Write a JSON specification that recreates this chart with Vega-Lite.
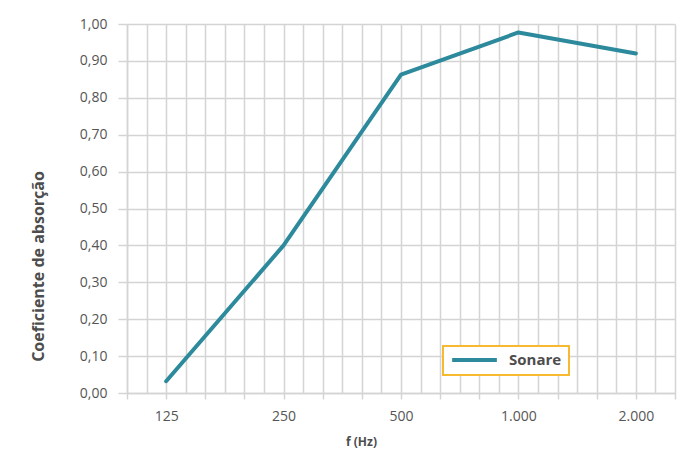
{
  "$schema": "https://vega.github.io/schema/vega-lite/v6.json",
  "width": 548,
  "height": 369,
  "autosize": {"type": "none"},
  "padding": {"left": 127, "top": 24, "right": 5, "bottom": 59},
  "background": "white",
  "config": {
    "view": {"stroke": null},
    "font": "Open Sans",
    "legend": {"strokeWidth": 2}
  },
  "data": {
    "values": [
      {"f": 125, "coef": 0.032, "serie": "Sonare"},
      {"f": 250, "coef": 0.40, "serie": "Sonare"},
      {"f": 500, "coef": 0.863, "serie": "Sonare"},
      {"f": 1000, "coef": 0.977, "serie": "Sonare"},
      {"f": 2000, "coef": 0.92, "serie": "Sonare"}
    ]
  },
  "mark": {"type": "line", "strokeWidth": 4, "strokeCap": "round", "strokeJoin": "round"},
  "encoding": {
    "x": {
      "field": "f",
      "type": "quantitative",
      "scale": {"type": "log", "base": 2, "domain": [99.2126, 2519.9], "nice": false},
      "axis": {
        "title": "f (Hz)",
        "titleFont": "Open Sans",
        "titleFontWeight": "bold",
        "titleFontSize": 12,
        "titleColor": "#4d4d4d",
        "titleX": 234,
        "titleY": 48,
        "titleBaseline": "middle",
        "titleAlign": "center",
        "values": [99.2126, 111.3623, 125, 140.3078, 157.4901, 176.7767, 198.4251, 222.7247, 250, 280.6155, 314.9803, 353.5534, 396.8503, 445.4494, 500, 561.231, 629.9605, 707.1068, 793.7005, 890.8987, 1000, 1122.462, 1259.921, 1414.214, 1587.401, 1781.797, 2000, 2244.924, 2519.842],
        "labelExpr": "datum.value==125?'125':datum.value==250?'250':datum.value==500?'500':datum.value==1000?'1.000':datum.value==2000?'2.000':''",
        "labelOverlap": false,
        "labelFlush": false,
        "labelFontSize": 14,
        "labelColor": "#555555",
        "labelPadding": 10,
        "grid": true,
        "gridColor": "#d4d4d4",
        "gridWidth": 1.5,
        "domain": true,
        "domainColor": "#d4d4d4",
        "domainWidth": 1.5,
        "tickColor": "#d4d4d4",
        "tickWidth": 1.5,
        "tickSize": 6,
        "tickOpacity": {"condition": {"test": "abs(log(datum.value/125)/log(2)*3 - round(log(datum.value/125)/log(2)*3)) < 0.01", "value": 1}, "value": 0}
      }
    },
    "y": {
      "field": "coef",
      "type": "quantitative",
      "scale": {"domain": [0, 1], "nice": false},
      "axis": {
        "title": "Coeficiente de absorção",
        "titleFont": "Open Sans",
        "titleFontWeight": "bold",
        "titleFontSize": 16,
        "titleColor": "#4d4d4d",
        "titleX": -89,
        "titleY": 242,
        "titleAlign": "center",
        "titleBaseline": "middle",
        "values": [0, 0.1, 0.2, 0.3, 0.4, 0.5, 0.6, 0.7, 0.8, 0.9, 1.0],
        "labelExpr": "replace(format(datum.value, '.2f'), '.', ',')",
        "labelFontSize": 14,
        "labelColor": "#555555",
        "labelPadding": 11,
        "grid": true,
        "gridColor": "#d4d4d4",
        "gridWidth": 1.5,
        "domainColor": "#d4d4d4",
        "domainWidth": 1.5,
        "tickColor": "#d4d4d4",
        "tickWidth": 1.5,
        "tickSize": 9
      }
    },
    "color": {
      "field": "serie",
      "type": "nominal",
      "scale": {"range": ["#2d8a9c"]},
      "legend": {
        "title": null,
        "orient": "none",
        "legendX": 316,
        "legendY": 322,
        "direction": "vertical",
        "symbolType": "stroke",
        "symbolStrokeWidth": 4,
        "symbolSize": 2000,
        "clipHeight": 14,
        "labelFontSize": 15,
        "labelFontWeight": "bold",
        "labelColor": "#4d4d4d",
        "labelOffset": 10,
        "strokeColor": "#f7b92f",
        "fillColor": "white",
        "padding": 7
      }
    }
  }
}
